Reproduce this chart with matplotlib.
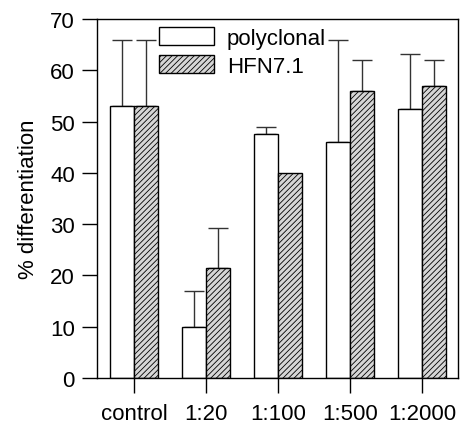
import matplotlib
matplotlib.use("Agg")
import matplotlib.pyplot as plt
import numpy as np

plt.rcParams['font.family'] = ['Liberation Sans', 'DejaVu Sans']
plt.rcParams['hatch.color'] = '#555555'
plt.rcParams['hatch.linewidth'] = 0.6

categories = ['control', '1:20', '1:100', '1:500', '1:2000']
polyclonal = [53, 10, 47.5, 46, 52.5]
polyclonal_err = [13, 7, 1.5, 20, 10.7]
hfn = [53, 21.5, 40, 56, 57]
hfn_err = [13, 7.8, 0, 6, 5]

fs = 16
fig = plt.figure(figsize=(4.61, 4.27), dpi=100)
ax = fig.add_axes([97/461, 1-379/427, 361/461, 359/427])

x = np.arange(len(categories))
w = 1/3
ax.bar(x - w/2, polyclonal, w, color='white', edgecolor='black', linewidth=1.0,
       label='polyclonal', zorder=2)
ax.bar(x + w/2, hfn, w, color='#d6d6d6', edgecolor='black', linewidth=1.0,
       hatch='//////', label='HFN7.1', zorder=2)
ax.errorbar(x - w/2, polyclonal, yerr=[np.zeros(len(x)), polyclonal_err], fmt='none',
            ecolor='#333333', elinewidth=1.0, capsize=7, capthick=1.0, zorder=1)
hmask = np.array(hfn_err) > 0
ax.errorbar((x + w/2)[hmask], np.array(hfn)[hmask],
            yerr=[np.zeros(hmask.sum()), np.array(hfn_err)[hmask]], fmt='none',
            ecolor='#333333', elinewidth=1.0, capsize=7, capthick=1.0, zorder=1)

ax.set_xlim(-0.514, 4.5)
ax.set_ylim(0, 70)
ax.set_yticks(np.arange(0, 71, 10))
ax.set_xticks(x)
ax.set_xticklabels(categories)
ax.tick_params(axis='y', direction='out', length=11, width=1, labelsize=fs, pad=5)
ax.tick_params(axis='x', direction='out', length=11, width=1, labelsize=fs, pad=7)
for s in ax.spines.values():
    s.set_linewidth(1.0)
ax.set_ylabel('% differentiation', fontsize=fs, labelpad=8)

ax.legend(loc='upper left', bbox_to_anchor=(0.16, 0.99), frameon=False, fontsize=fs,
          handlelength=2.45, handleheight=0.85, handletextpad=0.6, labelspacing=0.3,
          borderaxespad=0.0, borderpad=0.2)

fig.savefig('out.png', dpi=100)
